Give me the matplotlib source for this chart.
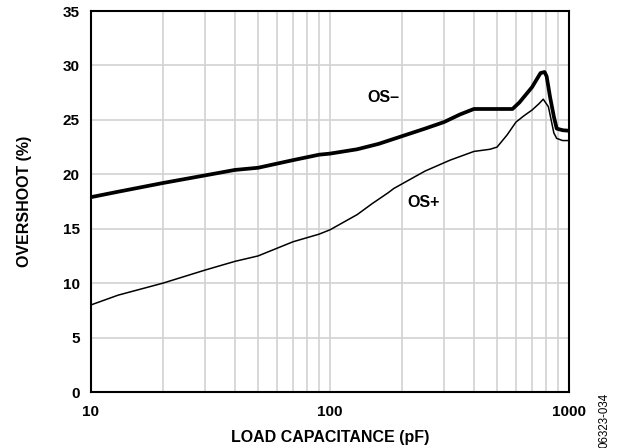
import matplotlib.pyplot as plt
import numpy as np

plt.rcParams['font.family'] = ['Liberation Sans', 'DejaVu Sans']

# OS- curve (heavy line)
cap_neg = [10, 13, 20, 30, 40, 50, 70, 90, 100, 130, 160, 200, 250, 300, 350, 400,
           500, 580, 620, 700, 760, 790, 806, 833, 864, 888, 940, 1000]
os_neg = [17.9, 18.4, 19.2, 19.9, 20.4, 20.6, 21.3, 21.8, 21.9, 22.3, 22.8, 23.5, 24.2, 24.8,
          25.5, 26.0, 26.0, 26.0, 26.6, 28.0, 29.3, 29.4, 29.0, 27.1, 25.3, 24.2, 24.05, 24.0]

# OS+ curve (thin line)
cap_pos = [10, 13, 20, 30, 40, 50, 70, 90, 100, 130, 150, 175, 185, 215, 250, 318, 400,
           467, 500, 550, 600, 650, 700, 750, 780, 820, 864, 888, 940, 1000]
os_pos = [8.0, 8.9, 10.0, 11.2, 12.0, 12.5, 13.8, 14.5, 14.9, 16.3, 17.3, 18.3, 18.7, 19.5,
          20.3, 21.3, 22.1, 22.3, 22.5, 23.6, 24.8, 25.4, 25.9, 26.5, 26.9, 26.2, 23.8, 23.3,
          23.1, 23.1]

fig = plt.figure(figsize=(6.21, 4.48), dpi=100)
ax = fig.add_axes([0.1465, 0.125, 0.7698, 0.8504])

ax.plot(cap_neg, os_neg, color='black', lw=2.7, solid_joinstyle='round')
ax.plot(cap_pos, os_pos, color='black', lw=1.1)

ax.set_xscale('log')
ax.set_xlim(10, 1000)
ax.set_ylim(0, 35)
ax.set_yticks(np.arange(0, 36, 5))
ax.set_xticks([10, 100, 1000])
ax.set_xticklabels(['10', '100', '1000'])
ax.set_xticks([k * d for d in (10, 100) for k in range(2, 10)], minor=True)
ax.xaxis.set_minor_formatter(plt.NullFormatter())

ax.grid(True, which='both', color='#d2d2d2', lw=1.2)
ax.set_axisbelow(True)
ax.tick_params(which='both', length=0, labelsize=11)
ax.tick_params(axis='x', pad=9)
ax.tick_params(axis='y', pad=8)
for lab in ax.get_xticklabels() + ax.get_yticklabels():
    lab.set_fontweight('bold')
for s in ax.spines.values():
    s.set_linewidth(1.5)

ax.set_xlabel('LOAD CAPACITANCE (pF)', fontsize=11.5, fontweight='bold', labelpad=8)
ax.set_ylabel('OVERSHOOT (%)', fontsize=11.5, fontweight='bold', labelpad=22)

ax.text(167, 27.1, 'OS\u2013', fontsize=11.5, fontweight='bold', ha='center', va='center')
ax.text(247, 17.4, 'OS+', fontsize=11.5, fontweight='bold', ha='center', va='center')

fig.text(0.974, 0.0625, '06323-034', rotation=90, fontsize=8.3, ha='center', va='center')

fig.savefig('out.png', dpi=100)
